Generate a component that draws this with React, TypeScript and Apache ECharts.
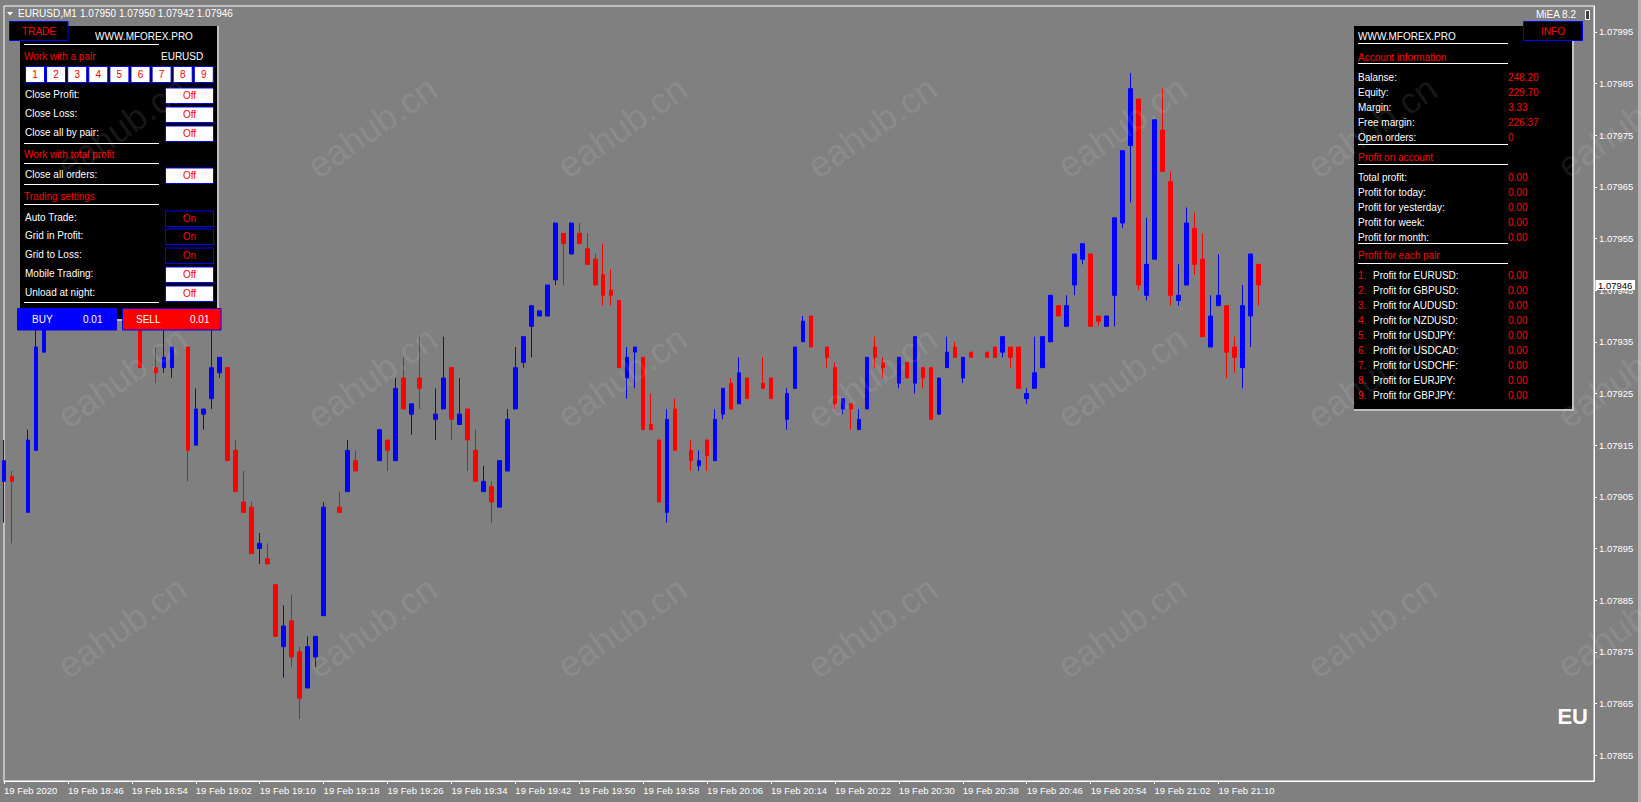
import React, { useEffect, useRef } from "react";
import * as echarts from "echarts";

const symbol = "EURUSD";
const period = "M1";
const siteName = "WWW.MFOREX.PRO";
const eaName = "MiEA 8.2";
const lotSize = "0.01";

const times = [
  "18:38","18:39","18:40","18:41","18:42","18:43","18:44","18:45","18:46","18:47","18:48","18:49","18:50","18:51","18:52","18:53","18:54","18:55","18:56","18:57","18:58","18:59",
  "19:00","19:01","19:02","19:03","19:04","19:05","19:06","19:07","19:08","19:09","19:10","19:11","19:12","19:13","19:14","19:15","19:16","19:17","19:18","19:19",
  "19:20","19:21","19:22","19:23","19:24","19:25","19:26","19:27","19:28","19:29","19:30","19:31","19:32","19:33","19:34","19:35","19:36","19:37","19:38","19:39",
  "19:40","19:41","19:42","19:43","19:44","19:45","19:46","19:47","19:48","19:49","19:50","19:51","19:52","19:53","19:54","19:55","19:56","19:57","19:58","19:59",
  "20:00","20:01","20:02","20:03","20:04","20:05","20:06","20:07","20:08","20:09","20:10","20:11","20:12","20:13","20:14","20:15","20:16","20:17","20:18","20:19",
  "20:20","20:21","20:22","20:23","20:24","20:25","20:26","20:27","20:28","20:29","20:30","20:31","20:32","20:33","20:34","20:35","20:36","20:37","20:38","20:39",
  "20:40","20:41","20:42","20:43","20:44","20:45","20:46","20:47","20:48","20:49","20:50","20:51","20:52","20:53","20:54","20:55","20:56","20:57","20:58","20:59",
  "21:00","21:01","21:02","21:03","21:04","21:05","21:06","21:07","21:08","21:09","21:10","21:11","21:12","21:13","21:14","21:15",
];

const open = [
  1.07908,1.07909,1.07904,1.07902,1.07914,1.07933,1.07945,1.07950,1.07954,1.07951,
  1.07948,1.07953,1.07957,1.07952,1.07949,1.07946,1.07948,1.07944,1.07930,1.07930,
  1.07930,1.07930,1.07934,1.07934,1.07915,1.07921,1.07924,1.07929,1.07930,1.07914,
  1.07904,1.07903,1.07895,1.07893,1.07888,1.07876,1.07881,1.07875,1.07868,1.07874,
  1.07882,1.07903,1.07903,1.07906,1.07912,1.07910,1.07912,1.07912,1.07916,1.07912,
  1.07928,1.07921,1.07928,1.07926,1.07920,1.07922,1.07930,1.07919,1.07922,1.07914,
  1.07906,1.07907,1.07903,1.07910,1.07922,1.07931,1.07938,1.07940,1.07940,1.07947,
  1.07956,1.07952,1.07956,1.07953,1.07951,1.07948,1.07945,1.07943,1.07928,1.07933,
  1.07932,1.07919,1.07916,1.07902,1.07922,1.07914,1.07914,1.07911,1.07916,1.07912,
  1.07921,1.07927,1.07923,1.07928,1.07924,1.07927,1.07928,1.07924,1.07920,1.07926,
  1.07935,1.07940,1.07934,1.07934,1.07930,1.07922,1.07923,1.07918,1.07922,1.07934,
  1.07931,1.07930,1.07927,1.07931,1.07927,1.07930,1.07930,1.07921,1.07930,1.07934,
  1.07928,1.07933,1.07932,1.07933,1.07934,1.07933,1.07934,1.07934,1.07924,1.07926,
  1.07930,1.07935,1.07942,1.07938,1.07946,1.07951,1.07952,1.07940,1.07938,1.07944,
  1.07958,1.07973,1.07982,1.07944,1.07951,1.07976,1.07966,1.07943,1.07946,1.07957,
  1.07951,1.07934,1.07942,1.07942,1.07934,1.07930,1.07940,1.07950,
];
const high = [
  1.07916,1.07910,1.07909,1.07918,1.07941,1.07948,1.07952,1.07956,1.07958,1.07955,
  1.07954,1.07960,1.07959,1.07955,1.07953,1.07951,1.07950,1.07947,1.07932,1.07934,
  1.07939,1.07934,1.07936,1.07934,1.07926,1.07922,1.07940,1.07932,1.07930,1.07916,
  1.07910,1.07904,1.07898,1.07896,1.07888,1.07884,1.07886,1.07876,1.07878,1.07878,
  1.07904,1.07905,1.07906,1.07916,1.07914,1.07912,1.07914,1.07918,1.07916,1.07928,
  1.07932,1.07923,1.07936,1.07928,1.07926,1.07936,1.07930,1.07928,1.07922,1.07918,
  1.07911,1.07908,1.07912,1.07922,1.07934,1.07936,1.07942,1.07941,1.07946,1.07958,
  1.07956,1.07958,1.07958,1.07956,1.07952,1.07954,1.07949,1.07943,1.07934,1.07934,
  1.07932,1.07925,1.07916,1.07922,1.07924,1.07916,1.07916,1.07914,1.07916,1.07922,
  1.07926,1.07928,1.07932,1.07928,1.07926,1.07932,1.07928,1.07926,1.07926,1.07934,
  1.07940,1.07940,1.07936,1.07934,1.07931,1.07924,1.07923,1.07922,1.07932,1.07936,
  1.07932,1.07932,1.07932,1.07931,1.07936,1.07930,1.07930,1.07928,1.07936,1.07935,
  1.07932,1.07933,1.07933,1.07933,1.07934,1.07936,1.07934,1.07934,1.07926,1.07936,
  1.07936,1.07944,1.07942,1.07944,1.07952,1.07954,1.07952,1.07940,1.07940,1.07959,
  1.07972,1.07987,1.07982,1.07959,1.07978,1.07984,1.07968,1.07950,1.07961,1.07960,
  1.07956,1.07944,1.07952,1.07942,1.07936,1.07946,1.07952,1.07950,
];
const low = [
  1.07900,1.07896,1.07901,1.07902,1.07914,1.07933,1.07943,1.07948,1.07949,1.07946,
  1.07946,1.07951,1.07950,1.07947,1.07944,1.07942,1.07943,1.07930,1.07928,1.07927,
  1.07929,1.07928,1.07932,1.07908,1.07915,1.07918,1.07922,1.07928,1.07912,1.07906,
  1.07902,1.07894,1.07892,1.07892,1.07878,1.07870,1.07872,1.07862,1.07868,1.07872,
  1.07882,1.07901,1.07902,1.07906,1.07910,1.07908,1.07910,1.07912,1.07910,1.07912,
  1.07922,1.07917,1.07922,1.07924,1.07916,1.07922,1.07916,1.07919,1.07910,1.07908,
  1.07906,1.07900,1.07903,1.07910,1.07922,1.07930,1.07932,1.07940,1.07940,1.07946,
  1.07946,1.07952,1.07954,1.07950,1.07946,1.07942,1.07942,1.07930,1.07924,1.07926,
  1.07918,1.07918,1.07904,1.07900,1.07914,1.07912,1.07910,1.07910,1.07910,1.07912,
  1.07920,1.07922,1.07923,1.07924,1.07922,1.07926,1.07924,1.07922,1.07918,1.07926,
  1.07935,1.07934,1.07932,1.07930,1.07922,1.07921,1.07918,1.07918,1.07922,1.07930,
  1.07928,1.07928,1.07926,1.07928,1.07925,1.07926,1.07920,1.07921,1.07930,1.07932,
  1.07927,1.07932,1.07931,1.07932,1.07932,1.07932,1.07930,1.07926,1.07923,1.07926,
  1.07930,1.07935,1.07940,1.07938,1.07944,1.07950,1.07938,1.07938,1.07938,1.07938,
  1.07957,1.07962,1.07945,1.07943,1.07951,1.07968,1.07942,1.07942,1.07946,1.07948,
  1.07936,1.07934,1.07942,1.07928,1.07929,1.07926,1.07934,1.07942,
];
const close = [
  1.07912,1.07908,1.07904,1.07916,1.07934,1.07945,1.07950,1.07954,1.07951,1.07948,
  1.07953,1.07957,1.07952,1.07949,1.07946,1.07948,1.07945,1.07930,1.07930,1.07929,
  1.07932,1.07934,1.07934,1.07914,1.07922,1.07922,1.07930,1.07932,1.07912,1.07906,
  1.07902,1.07894,1.07896,1.07892,1.07878,1.07880,1.07874,1.07866,1.07876,1.07878,
  1.07903,1.07903,1.07902,1.07914,1.07910,1.07910,1.07912,1.07918,1.07914,1.07926,
  1.07922,1.07923,1.07926,1.07926,1.07921,1.07928,1.07920,1.07921,1.07916,1.07908,
  1.07908,1.07904,1.07912,1.07920,1.07930,1.07936,1.07942,1.07941,1.07946,1.07958,
  1.07954,1.07958,1.07954,1.07950,1.07946,1.07944,1.07944,1.07930,1.07932,1.07934,
  1.07918,1.07918,1.07904,1.07920,1.07914,1.07914,1.07912,1.07912,1.07913,1.07920,
  1.07926,1.07922,1.07929,1.07924,1.07924,1.07926,1.07924,1.07924,1.07925,1.07934,
  1.07939,1.07934,1.07934,1.07932,1.07923,1.07924,1.07922,1.07920,1.07932,1.07932,
  1.07930,1.07930,1.07932,1.07928,1.07936,1.07928,1.07920,1.07928,1.07933,1.07932,
  1.07932,1.07932,1.07932,1.07932,1.07932,1.07936,1.07932,1.07926,1.07925,1.07929,
  1.07936,1.07944,1.07940,1.07942,1.07952,1.07954,1.07938,1.07939,1.07940,1.07959,
  1.07972,1.07984,1.07946,1.07950,1.07978,1.07968,1.07944,1.07944,1.07958,1.07950,
  1.07936,1.07940,1.07944,1.07933,1.07932,1.07942,1.07952,1.07946,
];

const timeTicks = ["18:38","18:46","18:54","19:02","19:10","19:18","19:26","19:34","19:42","19:50","19:58","20:06","20:14","20:22","20:30","20:38","20:46","20:54","21:02","21:10"];
const timeTickLabels = ["19 Feb 2020","19 Feb 18:46","19 Feb 18:54","19 Feb 19:02","19 Feb 19:10","19 Feb 19:18","19 Feb 19:26","19 Feb 19:34","19 Feb 19:42","19 Feb 19:50","19 Feb 19:58","19 Feb 20:06","19 Feb 20:14","19 Feb 20:22","19 Feb 20:30","19 Feb 20:38","19 Feb 20:46","19 Feb 20:54","19 Feb 21:02","19 Feb 21:10"];
const priceTicks = [1.07855,1.07865,1.07875,1.07885,1.07895,1.07905,1.07915,1.07925,1.07935,1.07945,1.07955,1.07965,1.07975,1.07985,1.07995];

const pairButtons = ["1","2","3","4","5","6","7","8","9"];
const settingLabels = ["Close Profit:","Close Loss:","Close all by pair:","Close all orders:","Auto Trade:","Grid in Profit:","Grid to Loss:","Mobile Trading:","Unload at night:"];
const settingStates = ["Off","Off","Off","Off","On","On","On","Off","Off"];
const accountLabels = ["Balanse:","Equity:","Margin:","Free margin:","Open orders:"];
const accountValues = ["248.20","229.70","3.33","226.37","0"];
const profitLabels = ["Total profit:","Profit for today:","Profit for yesterday:","Profit for week:","Profit for month:"];
const profitValues = ["0.00","0.00","0.00","0.00","0.00"];
const pairs = ["EURUSD","GBPUSD","AUDUSD","NZDUSD","USDJPY","USDCAD","USDCHF","EURJPY","GBPJPY"];
const pairProfits = ["0.00","0.00","0.00","0.00","0.00","0.00","0.00","0.00","0.00"];

const FONT = '"Liberation Sans", Arial, sans-serif';
const RED = "#ff0000";
const BLUE = "#0000ff";
const WHITE = "#ffffff";

function T(x: number, y: number, text: string, fill: string, size = 10, align = "left", weight = "normal", z = 101): any {
  return {
    type: "text", x, y, z, silent: true,
    style: { text, fill, fontSize: size, fontFamily: FONT, fontWeight: weight, align, verticalAlign: "middle", textAlign: align, textVerticalAlign: "middle" },
  };
}
function R(x: number, y: number, w: number, h: number, fill: string, stroke?: string, z = 100): any {
  return { type: "rect", z, silent: true, shape: { x, y, width: w, height: h }, style: { fill, stroke: stroke || null, lineWidth: stroke ? 1 : 0 } };
}
function L(x1: number, y1: number, x2: number, y2: number, stroke = WHITE, z = 101): any {
  return { type: "line", z, silent: true, shape: { x1, y1, x2, y2 }, style: { stroke, lineWidth: 1 } };
}

function buildGraphics(priceY: number): any[] {
  const g: any[] = [];
  const n = close.length - 1;
  // header
  g.push({ type: "polygon", z: 101, silent: true, shape: { points: [[7, 12], [13, 12], [10, 15.5]] }, style: { fill: WHITE } });
  g.push(T(18, 13.5, `${symbol},${period}`, WHITE));
  g.push(T(80, 13.5, [open[n], high[n], low[n], close[n]].map((v) => v.toFixed(5)).join(" "), WHITE));
  // current price box on the price scale
  g.push(R(1595.5, priceY - 5, 39.5, 10, WHITE, undefined, 105));
  g.push(T(1615.2, priceY + 0.5, close[n].toFixed(5), "#000", 9.5, "center", "normal", 106));
  // left TRADE panel
  g.push(R(20, 26, 197, 293, "#000"));
  g.push(R(217, 26, 2, 295, "#c0c0c0"));
  g.push(R(20, 319, 199, 2, "#c0c0c0"));
  g.push(R(9.5, 21.5, 58.5, 19, "#000", BLUE, 102));
  g.push(T(39, 31, "TRADE", RED, 10, "center", "normal", 103));
  g.push(T(144, 36, siteName, WHITE, 10, "center"));
  g.push(L(24, 44.5, 159, 44.5));
  g.push(T(24, 56, "Work with a pair", RED));
  g.push(T(161, 56, symbol, WHITE));
  pairButtons.forEach((b, k) => {
    g.push(R(25.5 + 21.1 * k, 66.5, 19, 16, WHITE, BLUE, 101));
    g.push(T(35 + 21.1 * k, 74.5, b, RED, 10, "center", "normal", 102));
  });
  const rowY = [94, 113, 132, 174, 217, 235, 254, 273, 292];
  settingLabels.forEach((lab, k) => {
    const y = rowY[k];
    g.push(T(25, y, lab, WHITE));
    const on = settingStates[k] === "On";
    g.push(R(165.5, y - 6, 48, 15.5, on ? "#000" : WHITE, BLUE, 101));
    g.push(T(189.5, y + 1.8, settingStates[k], RED, 10, "center", "normal", 102));
  });
  [143.5, 163.5, 184.5, 204.5, 302.5].forEach((y) => g.push(L(24, y, 159, y)));
  g.push(T(24, 154, "Work with total profit", RED));
  g.push(T(24, 196, "Trading settings", RED));
  g.push(R(17.5, 308.5, 99, 21.5, BLUE, BLUE, 102));
  g.push(T(32, 319.5, "BUY", WHITE, 10, "left", "normal", 103));
  g.push(T(83, 319.5, lotSize, WHITE, 10, "left", "normal", 103));
  g.push(R(122.5, 308.5, 98.5, 21.5, RED, BLUE, 102));
  g.push(T(136, 319.5, "SELL", WHITE, 10, "left", "normal", 103));
  g.push(T(190, 319.5, lotSize, WHITE, 10, "left", "normal", 103));
  // right INFO panel
  g.push(R(1354, 26, 218, 383, "#000"));
  g.push(R(1572, 40, 2, 371, "#c0c0c0"));
  g.push(R(1354, 409, 220, 2, "#c0c0c0"));
  g.push(R(1523.5, 21.5, 59, 19, "#000", BLUE, 102));
  g.push(T(1553, 31, "INFO", RED, 10, "center", "normal", 103));
  g.push(T(1358, 36, siteName, WHITE));
  [43.5, 63.5, 144.5, 164.5, 243.5, 263.5].forEach((y) => g.push(L(1358, y, 1508, y)));
  g.push(T(1358, 57, "Account information", RED));
  accountLabels.forEach((lab, k) => {
    g.push(T(1358, 77 + 15 * k, lab, WHITE));
    g.push(T(1508, 77 + 15 * k, accountValues[k], RED));
  });
  g.push(T(1358, 157, "Profit on account", RED));
  profitLabels.forEach((lab, k) => {
    g.push(T(1358, 177 + 15 * k, lab, WHITE));
    g.push(T(1508, 177 + 15 * k, profitValues[k], RED));
  });
  g.push(T(1358, 255, "Profit for each pair", RED));
  pairs.forEach((p, k) => {
    const y = 275 + 15 * k;
    g.push(T(1358, y, `${k + 1}.`, RED));
    g.push(T(1373, y, `Profit for ${p}:`, WHITE));
    g.push(T(1508, y, pairProfits[k], RED));
  });
  g.push(T(1536, 14, eaName, WHITE));
  g.push(R(1585.5, 10.5, 4, 9, "#404040", WHITE, 101));
  g.push(T(1588, 716, "EU", WHITE, 22, "right", "bold"));
  g.push(R(1638, 0, 3, 802, "#b4b4b4"));
  // watermarks
  for (let j = 0; j < 3; j++) {
    for (let k = 0; k < 7; k++) {
      g.push({
        type: "text", x: 122 + 250 * k, y: 127 + 250 * j, rotation: (35 * Math.PI) / 180, z: 120, silent: true,
        style: { text: "eahub.cn", fill: "rgba(255,255,255,0.1)", fontSize: 36, fontFamily: FONT, align: "center", verticalAlign: "middle", textAlign: "center", textVerticalAlign: "middle" },
      });
    }
  }
  return g;
}

export default function App() {
  const ref = useRef<HTMLDivElement>(null);
  useEffect(() => {
    document.body.style.margin = "0";
    const chart = echarts.init(ref.current!, null, { renderer: "svg" });
    const candles = open.map((o, i) => [o, close[i], low[i], high[i]]);
    const lastClose = close[close.length - 1];
    const tickSet = (v: any) => timeTicks.indexOf(v) >= 0;
    chart.setOption({
      animation: false,
      backgroundColor: "#808080",
      textStyle: { fontFamily: FONT },
      grid: { left: 4, right: 47, top: 6, bottom: 21, show: true, borderColor: WHITE, borderWidth: 1 },
      xAxis: {
        type: "category",
        data: times,
        boundaryGap: false,
        max: 199,
        axisLine: { show: true, lineStyle: { color: WHITE, width: 1 } },
        axisTick: { show: true, length: 3, lineStyle: { color: WHITE }, interval: (_i: number, v: any) => tickSet(v) },
        axisLabel: {
          interval: (_i: number, v: any) => tickSet(v),
          formatter: (v: any) => (tickSet(v) ? timeTickLabels[timeTicks.indexOf(v)] : ""),
          align: "left",
          color: WHITE,
          fontSize: 9.5,
          fontFamily: FONT,
          margin: 4,
          hideOverlap: false,
        },
        splitLine: { show: false },
      },
      yAxis: {
        type: "value",
        position: "right",
        min: 1.0785,
        max: 1.08,
        scale: true,
        axisLine: { show: true, lineStyle: { color: WHITE } },
        axisTick: { show: true, length: 3, lineStyle: { color: WHITE }, customValues: priceTicks },
        axisLabel: { customValues: priceTicks, formatter: (v: number) => v.toFixed(5), color: WHITE, fontSize: 9.5, fontFamily: FONT, margin: 5, align: "left" },
        splitLine: { show: false },
      },
      series: [
        {
          type: "candlestick",
          data: candles,
          barWidth: 4,
          clip: true,
          itemStyle: {
            color: BLUE,
            color0: RED,
            borderColor: BLUE,
            borderColor0: RED,
            borderColorDoji: "#808080",
            borderWidth: 1,
          },
        },
      ],
    });
    const priceY = chart.convertToPixel({ yAxisIndex: 0 }, lastClose) as number;
    chart.setOption({ graphic: { elements: buildGraphics(priceY) } });
    return () => chart.dispose();
  }, []);
  return <div ref={ref} style={{ position: "fixed", left: 0, top: 0, width: 1641, height: 802, background: "#808080" }} />;
}
